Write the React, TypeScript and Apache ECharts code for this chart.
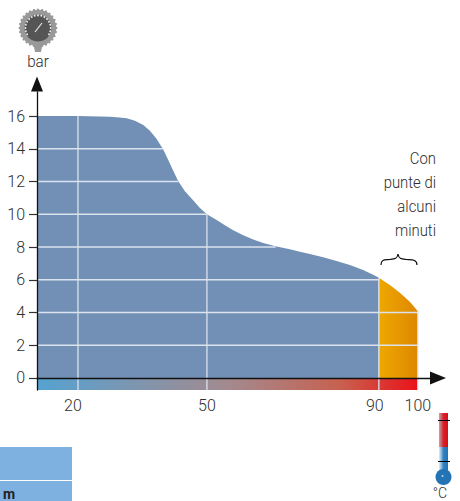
import React, { useEffect, useRef } from "react";
import * as echarts from "echarts";

const FONT = "Roboto";
const TEXT = "#2e2e2e";

const yTicks = [0, 2, 4, 6, 8, 10, 12, 14, 16];
const xTickLabels = ["20", "50", "90", "100"];
const xLabelAnchors = [18.84, 50, 89.07, 100];

const mainTemps = [10.47, 20, 27.44, 29, 31.33, 33.26, 35.19, 36.74, 38.3, 39.84, 41, 42.16, 43.33, 44.88, 46.84, 48.37, 50, 52.26, 54.19, 56.12, 58.45, 60.77, 63.09, 66.2, 69.3, 71.63, 73.95, 77.05, 80.16, 83.26, 86.35, 88.67, 90];
const mainBars = [16, 16, 15.96, 15.93, 15.86, 15.71, 15.45, 15.1, 14.6, 13.95, 13.31, 12.66, 12.01, 11.4, 10.84, 10.38, 10, 9.65, 9.33, 9.03, 8.72, 8.46, 8.24, 8.03, 7.86, 7.71, 7.57, 7.37, 7.14, 6.9, 6.6, 6.31, 6.12];
const peakTemps = [90, 92.82, 95.38, 97.95, 100];
const peakBars = [6.12, 5.68, 5.21, 4.66, 4.07];

const vGridTemps = [20, 50, 90, 100];
const vGridTops = [16, 10, 6.12, 4.07];
const hGridBars = [2, 4, 6, 8, 10, 12, 14];
const hGridEnds = [100, 100, 90, 66, 50, 43.33, 39.84];

// The 90-100 stretch of the printed axis is slightly compressed.
const xPos = (t: number) => (t <= 90 ? t : 90 + (t - 90) * 0.907);
const X_MIN = 10.465;
const X_MAX = 101.9;
const Y_MIN = -0.733;
const Y_MAX = 17.466;

echarts.graphic.registerShape(
  "brace",
  echarts.graphic.extendPath(
    "M381 265 C381 259 385 260 390 259.5 C395 259 397 259 398 254 C399 259 401 259 406 259.5 C411 260 417 259 417 265",
    {}
  )
);

function gaugeIcon() {
  const cx = 38, cy = 28;
  const items: any[] = [];
  items.push({ type: "polygon", shape: { points: [[33, 42], [43, 42], [41, 52], [35, 52]] }, style: { fill: "#999999" } });
  for (let i = 0; i < 28; i++) {
    const a = (i / 28) * Math.PI * 2;
    items.push({ type: "circle", shape: { cx: cx + 18.3 * Math.cos(a), cy: cy + 18.3 * Math.sin(a), r: 1.2 }, style: { fill: "#999999" } });
  }
  items.push({ type: "circle", shape: { cx, cy, r: 18.2 }, style: { fill: "#999999" } });
  items.push({ type: "circle", shape: { cx, cy, r: 13.5 }, style: { fill: "#555555" } });
  for (let i = 0; i < 24; i++) {
    const a = (i / 24) * Math.PI * 2;
    if (a > Math.PI * 0.3 && a < Math.PI * 0.7) continue;
    items.push({ type: "circle", shape: { cx: cx + 12.6 * Math.cos(a), cy: cy + 12.6 * Math.sin(a), r: 0.9 }, style: { fill: "#f0f0f0" } });
  }
  items.push({ type: "circle", shape: { cx, cy, r: 10.5 }, style: { fill: "#555555" } });
  items.push({ type: "line", shape: { x1: cx - 3, y1: cy + 4, x2: cx + 4, y2: cy - 5 }, style: { stroke: "#e8e8e8", lineWidth: 1.2 } });
  return items;
}

function thermometer() {
  const red = new echarts.graphic.LinearGradient(0, 0, 1, 0, [
    { offset: 0, color: "#c9a0a4" },
    { offset: 0.5, color: "#d8222a" },
    { offset: 1, color: "#d80d14" },
  ]);
  const blue = new echarts.graphic.LinearGradient(0, 0, 1, 0, [
    { offset: 0, color: "#e4eef6" },
    { offset: 0.5, color: "#2f82c4" },
    { offset: 1, color: "#2473b4" },
  ]);
  return [
    { type: "rect", shape: { x: 439, y: 413, width: 9, height: 34 }, style: { fill: red } },
    { type: "rect", shape: { x: 439, y: 447, width: 9, height: 25 }, style: { fill: blue } },
    { type: "circle", shape: { cx: 443.5, cy: 477, r: 8 }, style: { fill: "#2473b4" } },
    { type: "circle", shape: { cx: 442.5, cy: 476, r: 1 }, style: { fill: "#a8cfe8" } },
    { type: "line", shape: { x1: 438, y1: 420.5, x2: 450, y2: 420.5 }, style: { stroke: "#000", lineWidth: 1 } },
    { type: "line", shape: { x1: 438, y1: 461.5, x2: 450, y2: 461.5 }, style: { stroke: "#000", lineWidth: 1 } },
  ];
}

export default function App() {
  const ref = useRef<HTMLDivElement>(null);
  useEffect(() => {
    const chart = echarts.init(ref.current!, null, { renderer: "svg" });
    const anchors = xLabelAnchors.map(xPos);
    const gridLine = (name: string, data: number[][]) => ({
      name,
      type: "line",
      data,
      symbol: "none",
      silent: true,
      z: 4,
      lineStyle: { color: "#dbe3ee", width: 1.3 },
    });
    chart.setOption({
      animation: false,
      backgroundColor: "#ffffff",
      grid: { left: 37, right: 30, top: 92, bottom: 111 },
      xAxis: {
        type: "value",
        min: X_MIN,
        max: X_MAX,
        z: 10,
        splitLine: { show: false },
        axisTick: { show: false, customValues: anchors },
        axisLine: {
          onZero: true,
          lineStyle: { color: "#111111", width: 1.3 },
          symbol: ["none", "triangle"],
          symbolSize: [13, 16],
          symbolOffset: [0, 8],
        },
        axisLabel: {
          show: true,
          customValues: anchors,
          showMinLabel: true,
          showMaxLabel: true,
          hideOverlap: false,
          formatter: (v: number) => {
            const i = anchors.findIndex((a) => Math.abs(a - v) < 0.01);
            return i >= 0 ? xTickLabels[i] : "";
          },
          color: TEXT,
          fontFamily: FONT,
          fontWeight: 300,
          fontSize: 16,
          margin: 7,
        },
      },
      yAxis: {
        type: "value",
        min: Y_MIN,
        max: Y_MAX,
        z: 10,
        splitLine: { show: false },
        axisTick: { customValues: yTicks, length: 8, lineStyle: { color: "#333333", width: 1.2 } },
        axisLine: {
          show: true,
          onZero: false,
          lineStyle: { color: "#111111", width: 1.3 },
          symbol: ["none", "triangle"],
          symbolSize: [12, 15],
          symbolOffset: [0, 8],
        },
        axisLabel: {
          customValues: yTicks,
          color: TEXT,
          fontFamily: FONT,
          fontWeight: 300,
          fontSize: 16,
          margin: 12,
        },
      },
      series: [
        {
          name: "Continuo",
          type: "line",
          data: mainTemps.map((t, i) => [xPos(t), mainBars[i]]),
          symbol: "none",
          z: 2,
          lineStyle: { width: 0 },
          areaStyle: { color: "#7290b6", opacity: 1, origin: "auto" },
        },
        {
          name: "Punte",
          type: "line",
          data: peakTemps.map((t, i) => [xPos(t), peakBars[i]]),
          symbol: "none",
          z: 2,
          lineStyle: { width: 0 },
          areaStyle: {
            opacity: 1,
            origin: "auto",
            color: new echarts.graphic.LinearGradient(0, 0, 1, 0, [
              { offset: 0, color: "#eea800" },
              { offset: 1, color: "#dd8800" },
            ]),
          },
        },
        {
          name: "Fascia",
          type: "line",
          data: [[X_MIN, 0], [xPos(100), 0]],
          symbol: "none",
          z: 2,
          lineStyle: { width: 0 },
          areaStyle: {
            opacity: 1,
            origin: "start",
            color: new echarts.graphic.LinearGradient(0, 0, 1, 0, [
              { offset: 0, color: "#55a2d2" },
              { offset: 0.5, color: "#a38a8f" },
              { offset: 0.8, color: "#c8604f" },
              { offset: 1, color: "#ea1219" },
            ]),
          },
        },
        ...vGridTemps.map((t, i) =>
          gridLine("v" + t, [[xPos(t), Y_MIN], [xPos(t), vGridTops[i]]])
        ),
        ...hGridBars.map((b, i) =>
          gridLine("h" + b, [[X_MIN, b], [xPos(hGridEnds[i]), b]])
        ),
      ],
      graphic: [
        ...gaugeIcon(),
        {
          type: "text",
          x: 38,
          y: 62,
          scaleX: 0.95,
          style: { text: "bar", fill: TEXT, font: `300 16px ${FONT}`, align: "center", verticalAlign: "middle" },
        },
        ...["Con", "punte di", "alcuni", "minuti"].map((s, i) => ({
          type: "text",
          x: 436,
          y: 159 + i * 24,
          scaleX: 0.93,
          style: { text: s, fill: TEXT, font: `300 16px ${FONT}`, align: "right", verticalAlign: "middle" },
        })),
        { type: "brace", style: { fill: "none", stroke: "#111111", lineWidth: 1.2 } },
        ...thermometer(),
        {
          type: "text",
          x: 440,
          y: 500,
          style: { text: "°C", fill: TEXT, font: `300 14px ${FONT}`, align: "center", verticalAlign: "bottom" },
        },
        { type: "rect", shape: { x: 0, y: 447, width: 72, height: 33 }, style: { fill: "#7fb1e0" } },
        { type: "rect", shape: { x: 0, y: 481, width: 72, height: 20 }, style: { fill: "#7fb1e0" } },
        {
          type: "text",
          x: 3,
          y: 501,
          style: { text: "m", fill: "#222222", font: `700 14px ${FONT}`, align: "left", verticalAlign: "bottom" },
        },
      ],
    });
    return () => chart.dispose();
  }, []);
  return (
    <div
      ref={ref}
      style={{ position: "fixed", left: 0, top: 0, width: 460, height: 501 }}
    />
  );
}
